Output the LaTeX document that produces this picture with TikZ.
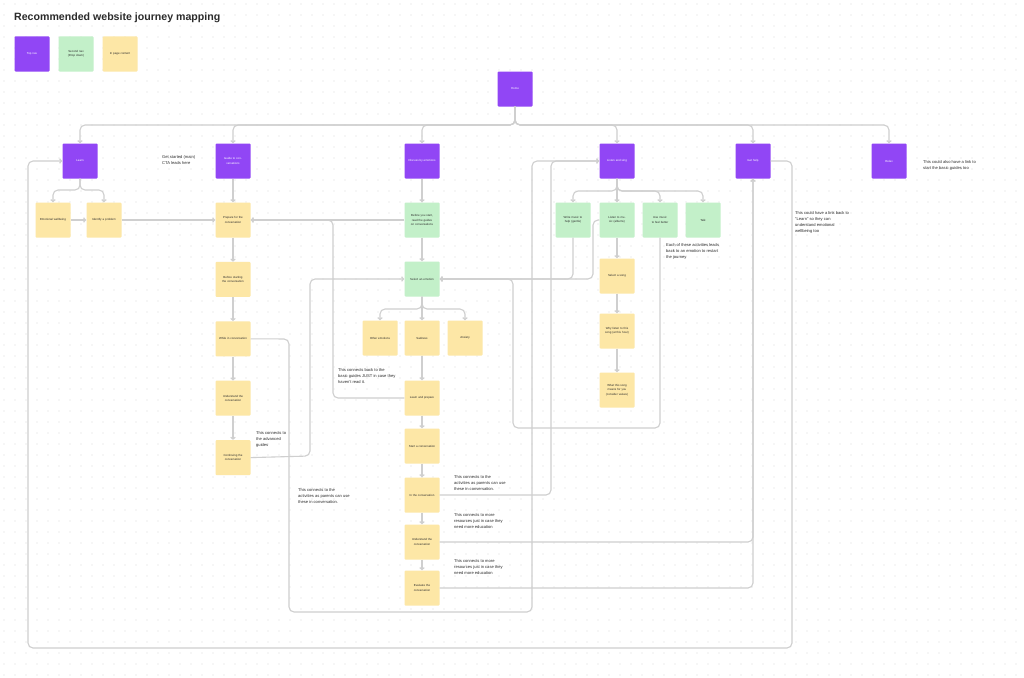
\documentclass[tikz,border=0pt]{standalone}
\usepackage{fontspec}
\setmainfont{Liberation Sans}
\usetikzlibrary{arrows.meta, positioning}
\definecolor{NavPurple}{HTML}{9146F5}
\definecolor{SubGreen}{HTML}{C3F0C9}
\definecolor{PageYellow}{HTML}{FDE7A6}
\definecolor{LinkGray}{HTML}{CFCFCF}
\definecolor{DotGray}{HTML}{D9D9D9}
\definecolor{InkDark}{HTML}{2B2B2B}

\tikzset{
  card/.style={minimum width=35pt, minimum height=35pt, inner sep=0pt,
    text width=29pt, align=center, rounded corners=1pt,
    font=\fontsize{2.9pt}{4.4pt}\selectfont},
  navcard/.style={card, fill=NavPurple, text=white},
  subcard/.style={card, fill=SubGreen, text=InkDark},
  pagecard/.style={card, fill=PageYellow, text=InkDark},
  note/.style={anchor=north west, inner sep=0pt, align=left, text=InkDark,
    font=\fontsize{4.1pt}{6pt}\selectfont},
  link/.style={draw=LinkGray, line width=1.1pt, rounded corners=5pt,
    -{Straight Barb[length=2pt,width=4.5pt]}},
  dotrow/.style={draw=DotGray, line width=1.3pt, line cap=round,
    dash pattern=on 0pt off 11pt},
}

\begin{document}
\begin{tikzpicture}[x=1pt, y=-1pt]
  % --- CANVAS ---
  \useasboundingbox (0,0) rectangle (1024,677);
  \fill[white] (0,0) rectangle (1024,677);
  \foreach \row in {4,15,...,675}
    \draw[dotrow] (4,\row) -- (1024,\row);

  % =====================================================================
  % 1. TITLE AND LEGEND
  % =====================================================================
  \node[anchor=west, inner sep=0pt, text=InkDark,
    font=\fontsize{10.6pt}{12pt}\selectfont\bfseries] (title) at (14,18)
    {Recommended website journey mapping};
  \node[navcard]  (legTop)    at (32,54)  {Top nav};
  \node[subcard]  (legSecond) at (76,54)  {Second nav (Drop down)};
  \node[pagecard] (legPage)   at (120,54) {In page content};

  % =====================================================================
  % 2. TOP NAVIGATION
  % =====================================================================
  \node[navcard] (home)    at (515,89)  {Home};
  \node[navcard] (learn)   at (80,161)  {Learn};
  \node[navcard] (guide)   at (233,161) {Guide to conversations};
  \node[navcard] (discuss) at (422,161) {Discuss by emotions};
  \node[navcard] (listen)  at (617,161) {Listen and sing};
  \node[navcard] (help)    at (753,161) {Get help};
  \node[navcard] (relax)   at (889,161) {Relax};

  \coordinate (homeHub) at (515,125);
  \foreach \dest in {learn, guide, discuss, listen, help, relax}
    \draw[link] (home.south) -- (homeHub) -| (\dest.north);

  % =====================================================================
  % 3. LEARN
  % =====================================================================
  \node[pagecard] (emo)   at (53,220)  {Emotional wellbeing};
  \node[pagecard] (ident) at (104,220) {Identify a problem};
  \coordinate (learnHub) at (80,190);
  \foreach \dest in {emo, ident}
    \draw[link] (learn.south) -- (learnHub) -| (\dest.north);
  \draw[link] (emo) -- (ident);

  % =====================================================================
  % 4. GUIDE TO CONVERSATIONS
  % =====================================================================
  \node[pagecard] (prep)   at (233,220)        {Prepare for the conversation};
  \node[pagecard] (before) [below=24pt of prep]   {Before starting the conversation};
  \node[pagecard] (whileG) [below=24pt of before] {While in conversation};
  \node[pagecard] (underG) [below=24pt of whileG] {Understand the conversation};
  \node[pagecard] (contG)  [below=24pt of underG] {Continuing the conversation};
  \draw[link] (guide) -- (prep);
  \draw[link] (prep) -- (before);
  \draw[link] (before) -- (whileG);
  \draw[link] (whileG) -- (underG);
  \draw[link] (underG) -- (contG);
  \draw[link] (ident) -- (prep);

  % =====================================================================
  % 5. DISCUSS BY EMOTIONS
  % =====================================================================
  \node[subcard]  (readg)  at (422,220) {Before you start, read the guides on conversations};
  \node[subcard]  (select) at (422,279) {Select an emotion};
  \node[pagecard] (other)  at (380,338) {Other emotions};
  \node[pagecard] (sad)    at (422,338) {Sadness};
  \node[pagecard] (anx)    at (465,338) {Anxiety};
  \node[pagecard] (learnp) at (422,398) {Learn and prepare};
  \node[pagecard] (start)  at (422,446) {Start a conversation};
  \node[pagecard] (inconv) at (422,495) {In the conversation};
  \node[pagecard] (underD) at (422,542) {Understand the conversation};
  \node[pagecard] (evalD)  at (422,588) {Evaluate the conversation};
  \draw[link] (discuss) -- (readg);
  \draw[link] (readg) -- (select);
  \coordinate (selectHub) at (422,309);
  \foreach \dest in {other, sad, anx}
    \draw[link] (select.south) -- (selectHub) -| (\dest.north);
  \draw[link] (sad) -- (learnp);
  \draw[link] (learnp) -- (start);
  \draw[link] (start) -- (inconv);
  \draw[link] (inconv) -- (underD);
  \draw[link] (underD) -- (evalD);

  % =====================================================================
  % 6. LISTEN AND SING
  % =====================================================================
  \node[subcard]  (wmus)    at (573,220) {Write music to help (gentle)};
  \node[subcard]  (lmus)    at (617,220) {Listen to music (albums)};
  \node[subcard]  (umus)    at (660,220) {Use music to feel better};
  \node[subcard]  (talk)    at (703,220) {Talk};
  \node[pagecard] (song)    at (617,276) {Select a song};
  \node[pagecard] (why)     at (617,331) {Why listen to this song (at this hour)};
  \node[pagecard] (meaning) at (617,390) {What this song means for you (consider values)};
  \coordinate (listenHub) at (617,191);
  \foreach \dest in {wmus, lmus, umus, talk}
    \draw[link] (listen.south) -- (listenHub) -| (\dest.north);
  \draw[link] (lmus) -- (song);
  \draw[link] (song) -- (why);
  \draw[link] (why) -- (meaning);

  % =====================================================================
  % 7. CROSS LINKS
  % =====================================================================
  % back to the guides
  \draw[link] (readg.west) -- (prep.east);
  \draw[link] (learnp.west) -- (333,398) -- (333,220) -- (prep.east);
  \draw[link] (contG.east) -- (310,456) -- (310,279) -- (select.west);
  % activities restart the journey
  \draw[link] (wmus.south) -- (573,279) -- (select.east);
  \draw[link] (lmus.west) -- (593,220) -- (593,279) -- (select.east);
  \draw[link] (umus.south) -- (660,428) -- (513,428) -- (513,279) -- (select.east);
  % into the activities
  \draw[link] (inconv.east) -- (551,495) -- (551,161) -- (listen.west);
  \draw[link] (whileG.east) -- (289,339) -- (289,612) -- (532,612)
    -- (532,161) -- (listen.west);
  % more resources
  \draw[link] (underD.east) -- (753,542) -- (help.south);
  \draw[link] (evalD.east) -- (753,588) -- (help.south);
  % get help loops back to learn
  \draw[link] (help.east) -- (792,161) -- (792,648) -- (28,648)
    -- (28,161) -- (learn.west);

  % =====================================================================
  % 8. NOTES
  % =====================================================================
  \node[note] (noteCta)    at (162,155) {Get started (main)\\CTA leads here};
  \node[note] (noteRelax)  at (923,160) {This could also have a link to\\start the basic guides too};
  \node[note] (noteHelp)   at (795,211) {This could have a link back to\\``Learn'' so they can\\understand emotional\\wellbeing too};
  \node[note] (noteSongs)  at (666,243) {Each of these activities leads\\back to an emotion to restart\\the journey};
  \node[note] (noteBasic)  at (338,368) {This connects back to the\\basic guides JUST in case they\\haven't read it.};
  \node[note] (noteAdv)    at (256,431) {This connects to\\the advanced\\guides};
  \node[note] (noteActA)   at (298,488) {This connects to the\\activities as parents can use\\these in conversation.};
  \node[note] (noteActB)   at (454,475) {This connects to the\\activities as parents can use\\these in conversation.};
  \node[note] (noteMoreA)  at (454,513) {This connects to more\\resources just in case they\\need more education};
  \node[note] (noteMoreB)  at (454,559) {This connects to more\\resources just in case they\\need more education};
\end{tikzpicture}
\end{document}
